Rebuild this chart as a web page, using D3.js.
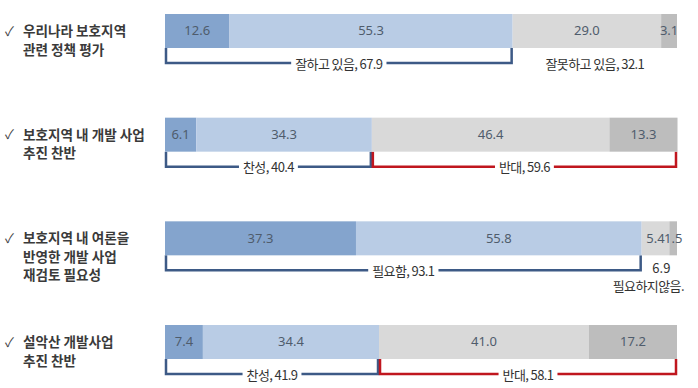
<!DOCTYPE html>
<html>
<head>
<meta charset="utf-8">
<script src="https://cdn.jsdelivr.net/npm/d3@7"></script>
<style>
  body { margin: 0; background: #fff; }
  svg { display: block; font-family: "Noto Sans CJK KR", "Noto Sans", sans-serif; }
</style>
</head>
<body>
<div id="chart"></div>
<script>
const questions = [
    ["우리나라 보호지역", "관련 정책 평가"],
    ["보호지역 내 개발 사업", "추진 찬반"],
    ["보호지역 내 여론을", "반영한 개발 사업", "재검토 필요성"],
    ["설악산 개발사업", "추진 찬반"]
];
const strongYes = [12.6, 6.1, 37.3, 7.4];
const yes = [55.3, 34.3, 55.8, 34.4];
const no = [29.0, 46.4, 5.4, 41.0];
const strongNo = [3.1, 13.3, 1.5, 17.2];
const positiveName = ["잘하고 있음", "찬성", "필요함", "찬성"];
const positiveTotal = [67.9, 40.4, 93.1, 41.9];
const negativeName = ["잘못하고 있음", "반대", "필요하지않음.", "반대"];
const negativeTotal = [32.1, 59.6, 6.9, 58.1];
const negativeBracket = [false, true, false, true];

const width = 698, height = 388;
const barH = 34, gap = 15;
const colors = ["#84a4cd", "#b9cce5", "#d9d9d9", "#bdbdbd"];
const blue = "#3d5a86", red = "#c0161e";

const svg = d3.select("#chart")
    .append("svg")
    .attr("width", width)
    .attr("height", height);

const x = d3.scaleLinear().domain([0, 100]).range([165, 677]);
const y = d3.scaleLinear().domain([0, questions.length - 1]).range([14, 325]);

const rows = questions.map((q, i) => {
    const vals = [strongYes[i], yes[i], no[i], strongNo[i]];
    let acc = 0;
    const segs = vals.map((v, k) => {
        const s = { x0: acc, x1: acc + v, v, k };
        acc += v;
        return s;
    });
    return { i, q, segs };
});

const row = svg.selectAll(".row")
    .data(rows)
    .enter()
    .append("g")
    .attr("class", "row")
    .attr("transform", d => `translate(0,${y(d.i)})`);

// question labels
row.append("text")
    .attr("x", 5)
    .attr("y", barH / 2 + 1)
    .attr("dominant-baseline", "middle")
    .style("font-size", "13px")
    .style("fill", "#444")
    .text("✓");

row.each(function(d) {
    d3.select(this).selectAll("text.q")
        .data(d.q)
        .enter()
        .append("text")
        .attr("class", "q")
        .attr("x", 23)
        .attr("y", (t, j) => barH / 2 + 5 + j * 18.5)
        .style("font-size", "13.6px")
        .style("font-weight", "bold")
        .style("fill", "#3a3a3a")
        .text(t => t);
});

// bars
row.selectAll("rect.seg")
    .data(d => d.segs)
    .enter()
    .append("rect")
    .attr("class", "seg")
    .attr("x", s => x(s.x0))
    .attr("y", 0)
    .attr("width", s => x(s.x1) - x(s.x0))
    .attr("height", barH)
    .attr("fill", s => colors[s.k]);

row.selectAll("text.val")
    .data(d => d.segs)
    .enter()
    .append("text")
    .attr("class", "val")
    .attr("x", s => (x(s.x0) + x(s.x1)) / 2)
    .attr("y", barH / 2 + 1)
    .attr("text-anchor", "middle")
    .attr("dominant-baseline", "middle")
    .style("font-family", "'Noto Sans', sans-serif")
    .style("font-size", "13px")
    .style("fill", "#4f5c6c")
    .text(s => s.v.toFixed(1));

// brackets
function bracket(g, x0, x1, color, label) {
    const ly = barH + gap;
    const t = g.append("text")
        .attr("x", (x(x0) + x(x1)) / 2)
        .attr("y", ly + 2)
        .attr("text-anchor", "middle")
        .attr("dominant-baseline", "middle")
        .style("font-size", "13px")
        .style("letter-spacing", "-0.6px")
        .style("fill", "#333")
        .text(label);
    const w = t.node().getComputedTextLength();
    const cx = (x(x0) + x(x1)) / 2;
    const l = x(x0) + 1, r = x(x1) - 1;
    g.insert("path", "text")
        .attr("d", `M${l},${barH}V${ly}H${cx - w / 2 - 4}M${cx + w / 2 + 4},${ly}H${r}V${barH}`)
        .attr("fill", "none")
        .attr("stroke", color)
        .attr("stroke-width", 2.5);
}

row.each(function(d) {
    const g = d3.select(this);
    const i = d.i;
    const split = strongYes[i] + yes[i];
    bracket(g, 0, split, blue, `${positiveName[i]}, ${positiveTotal[i].toFixed(1)}`);
    if (negativeBracket[i]) {
        bracket(g, split, 100, red, `${negativeName[i]}, ${negativeTotal[i].toFixed(1)}`);
    } else if (i === 0) {
        g.append("text")
            .attr("x", (x(split) + x(100)) / 2)
            .attr("y", barH + gap + 2)
            .attr("text-anchor", "middle")
            .attr("dominant-baseline", "middle")
            .style("font-size", "13px")
            .style("letter-spacing", "-0.6px")
            .style("fill", "#333")
            .text(`${negativeName[i]}, ${negativeTotal[i].toFixed(1)}`);
    } else {
        g.append("text")
            .attr("x", (x(split) + x(100)) / 2 + 2)
            .attr("y", barH + gap - 1)
            .attr("text-anchor", "middle")
            .attr("dominant-baseline", "middle")
            .style("font-size", "13px")
            .style("fill", "#333")
            .text(negativeTotal[i].toFixed(1));
        g.append("text")
            .attr("x", (x(split) + x(100)) / 2 - 11)
            .attr("y", barH + gap + 17)
            .attr("text-anchor", "middle")
            .attr("dominant-baseline", "middle")
            .style("font-size", "13px")
            .style("letter-spacing", "-0.6px")
            .style("fill", "#333")
            .text(negativeName[i]);
    }
});
</script>
</body>
</html>
